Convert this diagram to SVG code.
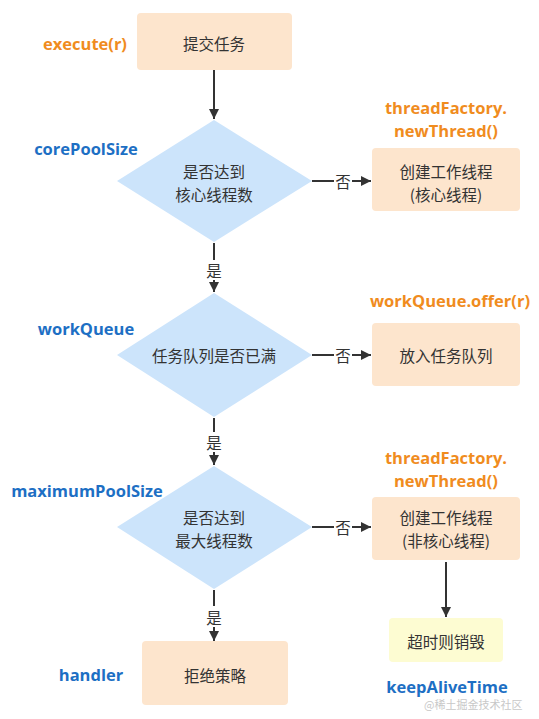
<svg xmlns="http://www.w3.org/2000/svg" width="539" height="719" viewBox="0 0 539 719">
<style>
.box{fill:#fde5cd;}
.yel{fill:#fdfcd2;}
.dia{fill:#cce4fb;}
.t{font-family:"Noto Sans CJK SC","Liberation Sans",sans-serif;font-size:15.5px;fill:#333;text-anchor:middle;dominant-baseline:central;}
.or{font-family:"Open Sans","Liberation Sans",sans-serif;font-weight:bold;font-size:16.5px;fill:#f08c1e;text-anchor:middle;dominant-baseline:central;}
.bl{font-family:"Open Sans","Liberation Sans",sans-serif;font-weight:bold;font-size:16.5px;fill:#1d6fc4;text-anchor:middle;dominant-baseline:central;}
.ln{stroke:#333;stroke-width:2;fill:none;}
.wm{font-family:"Noto Sans CJK SC","Liberation Sans",sans-serif;font-size:11px;fill:#c8c8c8;dominant-baseline:central;}
</style>
<defs>
<marker id="ah" viewBox="0 0 10 10" refX="10" refY="5" markerWidth="5" markerHeight="5" orient="auto" markerUnits="strokeWidth">
<path d="M0,0 L10,5 L0,10 z" fill="#333"/>
</marker>
</defs>
<rect width="539" height="719" fill="#fff"/>

<g id="connectors">
<line class="ln" x1="214" y1="70" x2="214" y2="119" marker-end="url(#ah)"/>
<line class="ln" x1="312" y1="181" x2="334" y2="181"/>
<text class="t" x="343" y="181">否</text>
<line class="ln" x1="352" y1="181" x2="371" y2="181" marker-end="url(#ah)"/>
<line class="ln" x1="214" y1="243" x2="214" y2="260"/>
<text class="t" x="214" y="270">是</text>
<line class="ln" x1="214" y1="280" x2="214" y2="292" marker-end="url(#ah)"/>
<line class="ln" x1="312" y1="355" x2="334" y2="355"/>
<text class="t" x="343" y="355">否</text>
<line class="ln" x1="352" y1="355" x2="371" y2="355" marker-end="url(#ah)"/>
<line class="ln" x1="214" y1="418" x2="214" y2="432"/>
<text class="t" x="214" y="442">是</text>
<line class="ln" x1="214" y1="452" x2="214" y2="465" marker-end="url(#ah)"/>
<line class="ln" x1="312" y1="527" x2="334" y2="527"/>
<text class="t" x="343" y="527">否</text>
<line class="ln" x1="352" y1="527" x2="371" y2="527" marker-end="url(#ah)"/>
<line class="ln" x1="446" y1="562" x2="446" y2="617" marker-end="url(#ah)"/>
<line class="ln" x1="214" y1="590" x2="214" y2="606"/>
<text class="t" x="214" y="617">是</text>
<line class="ln" x1="214" y1="627" x2="214" y2="641" marker-end="url(#ah)"/>
</g>

<g id="submit">
<rect class="box" x="137" y="13" width="155" height="57" rx="4"/>
<text class="t" x="214" y="43">提交任务</text>
<text class="or" x="85" y="43">execute(r)</text>
</g>

<g id="coreCheck">
<polygon class="dia" points="214,120 312,181 214,242 117,181"/>
<text class="t" x="214" y="171">是否达到</text>
<text class="t" x="214" y="194">核心线程数</text>
<text class="bl" x="86" y="148">corePoolSize</text>
</g>

<g id="createCore">
<rect class="box" x="372" y="148" width="148" height="63" rx="4"/>
<text class="t" x="446" y="171">创建工作线程</text>
<text class="t" x="446" y="194">(核心线程)</text>
<text class="or" x="446" y="107">threadFactory.</text>
<text class="or" x="446" y="130">newThread()</text>
</g>

<g id="queueCheck">
<polygon class="dia" points="214,293 312,355 214,417 117,355"/>
<text class="t" x="214" y="355">任务队列是否已满</text>
<text class="bl" x="86" y="328">workQueue</text>
</g>

<g id="enqueue">
<rect class="box" x="372" y="323" width="148" height="63" rx="4"/>
<text class="t" x="446" y="355">放入任务队列</text>
<text class="or" x="450" y="300">workQueue.offer(r)</text>
</g>

<g id="maxCheck">
<polygon class="dia" points="214,466 312,527 214,589 117,527"/>
<text class="t" x="214" y="517">是否达到</text>
<text class="t" x="214" y="540">最大线程数</text>
<text class="bl" x="87" y="490">maximumPoolSize</text>
</g>

<g id="createNonCore">
<rect class="box" x="372" y="497" width="148" height="63" rx="4"/>
<text class="t" x="446" y="517">创建工作线程</text>
<text class="t" x="446" y="540">(非核心线程)</text>
<text class="or" x="446" y="457">threadFactory.</text>
<text class="or" x="446" y="480">newThread()</text>
</g>

<g id="timeout">
<rect class="yel" x="389" y="618" width="114" height="44" rx="4"/>
<text class="t" x="446" y="641">超时则销毁</text>
<text class="bl" x="447" y="686">keepAliveTime</text>
</g>

<g id="reject">
<rect class="box" x="142" y="641" width="146" height="64" rx="4"/>
<text class="t" x="215" y="675">拒绝策略</text>
<text class="bl" x="91" y="674">handler</text>
</g>

<text class="wm" x="424" y="704">@稀土掘金技术社区</text>
</svg>
